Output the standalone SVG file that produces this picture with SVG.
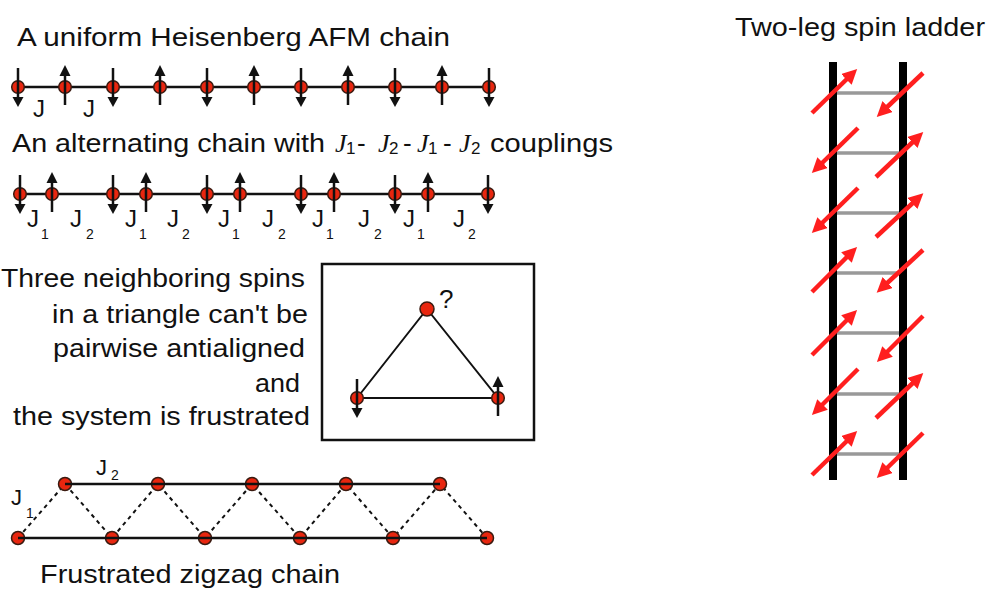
<svg xmlns="http://www.w3.org/2000/svg" xmlns:xlink="http://www.w3.org/1999/xlink" width="1000" height="608" viewBox="0 0 1000 608">
<style>
text{font-family:"Liberation Sans",Arial,sans-serif;fill:#111;}
.t{font-size:26px;}
.j{font-size:24px;}
.sub{font-size:14px;}
.js{font-family:"Liberation Serif","Times New Roman",serif;font-style:italic;font-size:26px;}
.s17{font-size:17px;}
.chain{stroke:#111;stroke-width:2.5;fill:none;}
.bond{stroke:#111;stroke-width:2;fill:none;}
.dash{stroke:#111;stroke-width:2;stroke-dasharray:4 4;fill:none;}
.node{fill:#e8260f;stroke:#3a1a10;stroke-width:1.5;}
.rail{stroke:#000;stroke-width:8;}
.rung{stroke:#999;stroke-width:3.5;}
.ra{stroke:#ff1f1f;stroke-width:4.5;marker-end:url(#rh);}
</style>
<defs>
<marker id="rh" markerUnits="userSpaceOnUse" viewBox="0 0 15 15" markerWidth="15" markerHeight="15" refX="5" refY="7.5" orient="auto">
<path d="M0,0 L15,7.5 L0,15 z" fill="#ff1f1f"/>
</marker>
<g id="sd">
<circle class="node" r="6.3"/>
<line x1="0" y1="-19" x2="0" y2="11" stroke="#111" stroke-width="2.5"/>
<polygon points="-5.5,10 5.5,10 0,20" fill="#111"/>
</g>
<g id="su">
<circle class="node" r="6.3"/>
<line x1="0" y1="18" x2="0" y2="-12" stroke="#111" stroke-width="2.5"/>
<polygon points="-5.5,-11 5.5,-11 0,-22" fill="#111"/>
</g>
<circle id="n" class="node" r="6.5"/>
</defs>

<!-- Uniform chain -->
<g id="uniform-chain">
<text class="t" x="17" y="46" textLength="433" lengthAdjust="spacingAndGlyphs">A uniform Heisenberg AFM chain</text>
<line class="chain" x1="18" y1="87" x2="489" y2="87"/>
<use xlink:href="#sd" x="18" y="87"/>
<use xlink:href="#su" x="65" y="87"/>
<use xlink:href="#sd" x="113" y="87"/>
<use xlink:href="#su" x="160" y="87"/>
<use xlink:href="#sd" x="207" y="87"/>
<use xlink:href="#su" x="254" y="87"/>
<use xlink:href="#sd" x="301" y="87"/>
<use xlink:href="#su" x="348" y="87"/>
<use xlink:href="#sd" x="395" y="87"/>
<use xlink:href="#su" x="442" y="87"/>
<use xlink:href="#sd" x="489" y="87"/>
<text class="j" x="33" y="117">J</text>
<text class="j" x="83" y="117">J</text>
</g>

<!-- Alternating chain -->
<g id="alternating-chain">
<text class="t" y="152"><tspan x="12" textLength="313" lengthAdjust="spacingAndGlyphs">An alternating chain with</tspan><tspan class="js" x="335">J</tspan><tspan class="s17" x="346" dy="2">1</tspan><tspan x="357" dy="-2">-</tspan><tspan class="js" x="378">J</tspan><tspan class="s17" x="389" dy="2">2</tspan><tspan x="403" dy="-2">-</tspan><tspan class="js" x="417">J</tspan><tspan class="s17" x="428" dy="2">1</tspan><tspan x="443" dy="-2">-</tspan><tspan class="js" x="459">J</tspan><tspan class="s17" x="471" dy="2">2</tspan><tspan x="490" dy="-2" textLength="123" lengthAdjust="spacingAndGlyphs">couplings</tspan></text>
<line class="chain" x1="20" y1="194" x2="488" y2="194"/>
<use xlink:href="#sd" x="20" y="194"/>
<use xlink:href="#su" x="52" y="194"/>
<use xlink:href="#sd" x="113" y="194"/>
<use xlink:href="#su" x="146" y="194"/>
<use xlink:href="#sd" x="207" y="194"/>
<use xlink:href="#su" x="240" y="194"/>
<use xlink:href="#sd" x="301" y="194"/>
<use xlink:href="#su" x="334" y="194"/>
<use xlink:href="#sd" x="395" y="194"/>
<use xlink:href="#su" x="428" y="194"/>
<use xlink:href="#sd" x="488" y="194"/>
<text class="j" x="27" y="227">J<tspan class="sub" x="41" y="239">1</tspan></text>
<text class="j" x="70" y="227">J<tspan class="sub" x="86" y="239">2</tspan></text>
<text class="j" x="125" y="227">J<tspan class="sub" x="139" y="239">1</tspan></text>
<text class="j" x="167" y="227">J<tspan class="sub" x="182" y="239">2</tspan></text>
<text class="j" x="218" y="227">J<tspan class="sub" x="232" y="239">1</tspan></text>
<text class="j" x="262" y="227">J<tspan class="sub" x="278" y="239">2</tspan></text>
<text class="j" x="312" y="227">J<tspan class="sub" x="326" y="239">1</tspan></text>
<text class="j" x="358" y="227">J<tspan class="sub" x="374" y="239">2</tspan></text>
<text class="j" x="403" y="227">J<tspan class="sub" x="417" y="239">1</tspan></text>
<text class="j" x="453" y="227">J<tspan class="sub" x="468" y="239">2</tspan></text>
</g>

<!-- Frustration text -->
<g id="frustration-text">
<text class="t" x="1" y="287" textLength="304" lengthAdjust="spacingAndGlyphs">Three neighboring spins</text>
<text class="t" x="52" y="323" textLength="256" lengthAdjust="spacingAndGlyphs">in a triangle can't be</text>
<text class="t" x="53" y="357" textLength="252" lengthAdjust="spacingAndGlyphs">pairwise antialigned</text>
<text class="t" x="255" y="392" textLength="45" lengthAdjust="spacingAndGlyphs">and</text>
<text class="t" x="13" y="425" textLength="297" lengthAdjust="spacingAndGlyphs">the system is frustrated</text>
</g>

<!-- Triangle box -->
<g id="triangle">
<rect x="322" y="264" width="212" height="176" fill="none" stroke="#111" stroke-width="2.5"/>
<polyline class="bond" points="357,398 427,309 498,398 357,398"/>
<circle class="node" cx="427" cy="309" r="7"/>
<text class="t" x="439" y="308">?</text>
<use xlink:href="#sd" x="357" y="398"/>
<use xlink:href="#su" x="498" y="398"/>
</g>

<!-- Zigzag chain -->
<g id="zigzag-chain">
<polyline class="dash" points="18,538 65,484 112,538 158,484 205,538 252,484 300,538 346,484 393,538 440,484 487,538"/>
<use xlink:href="#n" x="65" y="484"/>
<use xlink:href="#n" x="158" y="484"/>
<use xlink:href="#n" x="252" y="484"/>
<use xlink:href="#n" x="346" y="484"/>
<use xlink:href="#n" x="440" y="484"/>
<use xlink:href="#n" x="18" y="538"/>
<use xlink:href="#n" x="112" y="538"/>
<use xlink:href="#n" x="205" y="538"/>
<use xlink:href="#n" x="300" y="538"/>
<use xlink:href="#n" x="393" y="538"/>
<use xlink:href="#n" x="487" y="538"/>
<line class="chain" x1="65" y1="484" x2="440" y2="484"/>
<line class="chain" x1="18" y1="538" x2="487" y2="538"/>
<text class="j" x="11" y="505" style="font-size:22px">J<tspan class="sub" x="26" y="518">1</tspan></text>
<text class="j" x="96" y="475" style="font-size:22px">J<tspan class="sub" x="111" y="480">2</tspan></text>
<text class="t" x="40" y="583" textLength="300" lengthAdjust="spacingAndGlyphs">Frustrated zigzag chain</text>
</g>

<!-- Ladder -->
<g id="ladder">
<text class="t" x="735" y="36" textLength="250" lengthAdjust="spacingAndGlyphs">Two-leg spin ladder</text>
<line class="rung" x1="836" y1="93" x2="899" y2="93"/>
<line class="rung" x1="836" y1="153" x2="899" y2="153"/>
<line class="rung" x1="836" y1="213" x2="899" y2="213"/>
<line class="rung" x1="836" y1="273" x2="899" y2="273"/>
<line class="rung" x1="836" y1="333" x2="899" y2="333"/>
<line class="rung" x1="836" y1="394" x2="899" y2="394"/>
<line class="rung" x1="836" y1="454" x2="899" y2="454"/>
<line class="rail" x1="833" y1="62" x2="833" y2="480"/>
<line class="rail" x1="903" y1="62" x2="903" y2="480"/>
</g>

<g id="connectors">
<line class="ra" x1="812" y1="113" x2="850" y2="76"/>
<line class="ra" x1="858" y1="128" x2="819" y2="166"/>
<line class="ra" x1="858" y1="188" x2="819" y2="226"/>
<line class="ra" x1="812" y1="292" x2="850" y2="254"/>
<line class="ra" x1="812" y1="355" x2="850" y2="317"/>
<line class="ra" x1="858" y1="369" x2="819" y2="408"/>
<line class="ra" x1="812" y1="475" x2="850" y2="438"/>
<line class="ra" x1="923" y1="73" x2="884" y2="110"/>
<line class="ra" x1="876" y1="177" x2="916" y2="139"/>
<line class="ra" x1="876" y1="237" x2="916" y2="200"/>
<line class="ra" x1="923" y1="250" x2="884" y2="286"/>
<line class="ra" x1="923" y1="316" x2="884" y2="355"/>
<line class="ra" x1="876" y1="418" x2="916" y2="380"/>
<line class="ra" x1="923" y1="433" x2="884" y2="471"/>
</g>
</svg>
